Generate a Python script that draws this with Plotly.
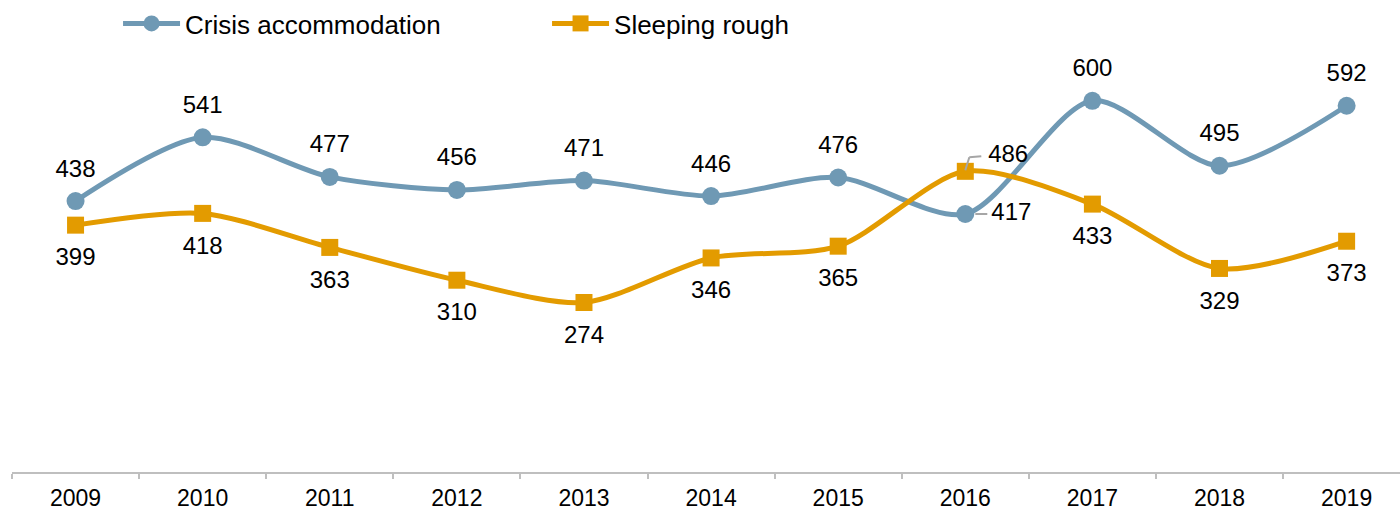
import plotly.graph_objects as go

years = ["2009", "2010", "2011", "2012", "2013", "2014", "2015", "2016", "2017", "2018", "2019"]
crisis = [438, 541, 477, 456, 471, 446, 476, 417, 600, 495, 592]
rough = [399, 418, 363, 310, 274, 346, 365, 486, 433, 329, 373]

blue = "#6f99b4"
orange = "#e39b00"
grey = "#a6a6a6"
lab_font = dict(family="Liberation Sans, Arial", size=24, color="#000000")

fig = go.Figure()

fig.add_trace(go.Scatter(
    x=years, y=crisis, name="Crisis accommodation",
    mode="lines+markers",
    line=dict(color=blue, width=5, shape="spline", smoothing=0.8),
    marker=dict(symbol="circle", size=18, color=blue),
))
fig.add_trace(go.Scatter(
    x=years, y=rough, name="Sleeping rough",
    mode="lines+markers",
    line=dict(color=orange, width=5, shape="spline", smoothing=0.8),
    marker=dict(symbol="square", size=17, color=orange),
))

# data labels: invisible markers set the text offset
c_pos = ["middle right" if yr == "2016" else "top center" for yr in years]
c_size = [40 if yr == "2016" else 28 for yr in years]
r_pos = ["middle right" if yr == "2016" else "bottom center" for yr in years]
r_size = [35 if yr == "2016" else 34 for yr in years]
r_text = [f"{v}<br> " if yr == "2016" else str(v) for yr, v in zip(years, rough)]

fig.add_trace(go.Scatter(
    x=years, y=crisis, mode="markers+text", text=[str(v) for v in crisis],
    textposition=c_pos, textfont=lab_font, showlegend=False, hoverinfo="skip",
    marker=dict(size=c_size, opacity=0),
))
fig.add_trace(go.Scatter(
    x=years, y=rough, mode="markers+text", text=r_text,
    textposition=r_pos, textfont=lab_font, showlegend=False, hoverinfo="skip",
    marker=dict(size=r_size, opacity=0),
))

# leader lines for the 2016 labels
i16 = years.index("2016")
leader = dict(type="line", xref="x", yref="y", xsizemode="pixel", ysizemode="pixel",
              xanchor=i16, line=dict(color=grey, width=2), layer="above")
fig.add_shape(**leader, yanchor=crisis[i16], x0=10, x1=22, y0=0, y1=0)
fig.add_shape(**leader, yanchor=rough[i16], x0=0, x1=4, y0=1, y1=14)
fig.add_shape(**leader, yanchor=rough[i16], x0=4, x1=16, y0=14, y1=15)

fig.update_layout(
    width=1400, height=513,
    margin=dict(l=12, r=0, t=0, b=41),
    paper_bgcolor="white", plot_bgcolor="white",
    font=dict(family="Liberation Sans, Arial", size=24, color="#000000"),
    showlegend=True,
    legend=dict(orientation="h", x=0.0764, y=0.953, xanchor="left", yanchor="middle",
                font=dict(size=26), itemwidth=57, entrywidth=357,
                bgcolor="rgba(0,0,0,0)"),
    xaxis=dict(type="category", range=[-0.5, 10.42], tickson="boundaries",
               ticks="outside", ticklen=5, tickcolor="#bfbfbf", tickwidth=1.5,
               showline=True, linecolor="#bfbfbf", linewidth=1.5,
               showgrid=False, tickfont=dict(size=23), ticklabelstandoff=5),
    yaxis=dict(range=[0, 761.3], showticklabels=False, showgrid=False,
               zeroline=False, showline=False, ticks=""),
)

fig.write_html("out.html", config={"displayModeBar": False},
               post_script="document.body.style.margin='0';")
